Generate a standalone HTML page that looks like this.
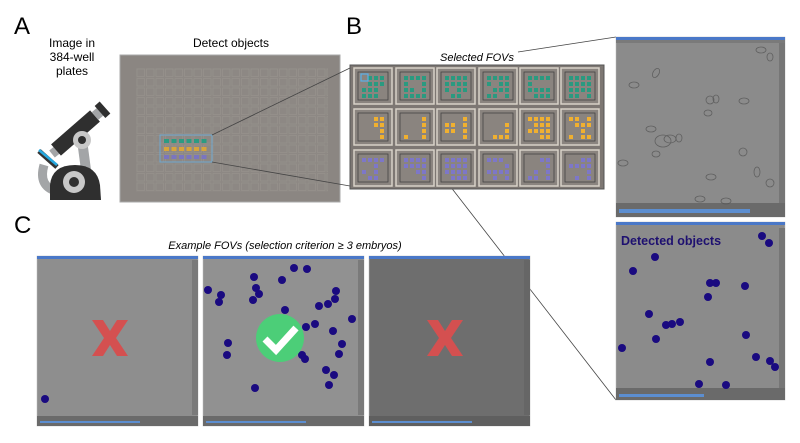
<!DOCTYPE html>
<html><head><meta charset="utf-8"><style>
html,body{margin:0;padding:0;background:#fff;}
svg{display:block;font-family:"Liberation Sans",sans-serif;}
</style></head><body>
<svg width="800" height="443" viewBox="0 0 800 443" xmlns="http://www.w3.org/2000/svg">
<defs>
<pattern id="grid" x="136" y="68" width="9.5" height="9.5" patternUnits="userSpaceOnUse">
<rect width="9.5" height="9.5" fill="#8d8884"/>
<rect x="1" y="1" width="7.5" height="7.5" fill="none" stroke="#98938e" stroke-width="0.6"/>
</pattern>
</defs>
<rect width="800" height="443" fill="#fff"/>
<text x="14" y="34" font-size="24">A</text>
<text x="346" y="34" font-size="24">B</text>
<text x="14" y="233" font-size="24">C</text>
<text x="72" y="47" font-size="12" text-anchor="middle">Image in</text>
<text x="72" y="61" font-size="12" text-anchor="middle">384-well</text>
<text x="72" y="75" font-size="12" text-anchor="middle">plates</text>
<text x="231" y="47" font-size="12" text-anchor="middle">Detect objects</text>

<!-- microscope -->
<g>
<path d="M44 165 Q38 186 56 191" stroke="#a3a5a7" stroke-width="9" fill="none"/>
<path d="M82 140 L86 170" stroke="#a3a5a7" stroke-width="10"/>
<line x1="39" y1="151" x2="57" y2="167" stroke="#333" stroke-width="5"/>
<line x1="39" y1="150" x2="57" y2="165" stroke="#27a9e1" stroke-width="2.5"/>
<path d="M50 200 L50 185 Q52 165 75 165 Q97 165 100 185 L101 200 Z" fill="#2f2f2f"/>
<circle cx="74" cy="182" r="11" fill="#c8c8c8"/>
<circle cx="74" cy="182" r="5" fill="#2f2f2f"/>
<line x1="52" y1="154" x2="57" y2="150" stroke="#a3a5a7" stroke-width="9"/>
<line x1="56" y1="150" x2="95" y2="116" stroke="#2f2f2f" stroke-width="15"/>
<line x1="95" y1="116" x2="101" y2="111" stroke="#a3a5a7" stroke-width="10"/>
<line x1="100" y1="112" x2="105" y2="107.5" stroke="#2f2f2f" stroke-width="16"/>
<circle cx="82" cy="140" r="9" fill="#c8c8c8"/>
<circle cx="82" cy="140" r="4" fill="#2f2f2f"/>
</g>

<!-- plate A -->
<rect x="120" y="55" width="220" height="147" fill="#8b8682" stroke="#aaa" stroke-width="1"/>
<rect x="136" y="68" width="192" height="124" fill="url(#grid)"/>
<rect x="160" y="135" width="52" height="27" fill="none" stroke="#6fa8d0" stroke-width="1"/>
<g stroke-width="4" stroke-dasharray="5 2.5">
<line x1="164" y1="141" x2="208" y2="141" stroke="#2c9b82"/>
<line x1="164" y1="149" x2="208" y2="149" stroke="#d8a53a"/>
<line x1="164" y1="157" x2="208" y2="157" stroke="#7a75c0"/>
</g>

<!-- connectors -->
<g stroke="#444" stroke-width="0.8" fill="none">
<line x1="212" y1="135" x2="350" y2="68"/>
<line x1="212" y1="162" x2="350" y2="186"/>
<line x1="518" y1="52" x2="616" y2="37"/>
<line x1="367" y1="79" x2="616" y2="400"/>
</g>

<!-- plate B -->
<text x="477" y="61" font-size="11" font-style="italic" text-anchor="middle">Selected FOVs</text>
<rect x="350" y="65" width="254" height="124" fill="#7d7773" stroke="#555" stroke-width="1"/>
<g fill="#8a847f" stroke="#d8d2c8" stroke-width="1.5">
<rect x="354" y="68" width="38" height="36"/><rect x="396" y="68" width="38" height="36"/><rect x="437" y="68" width="38" height="36"/><rect x="479" y="68" width="38" height="36"/><rect x="520" y="68" width="38" height="36"/><rect x="561" y="68" width="38" height="36"/>
<rect x="354" y="109" width="38" height="36"/><rect x="396" y="109" width="38" height="36"/><rect x="437" y="109" width="38" height="36"/><rect x="479" y="109" width="38" height="36"/><rect x="520" y="109" width="38" height="36"/><rect x="561" y="109" width="38" height="36"/>
<rect x="354" y="150" width="38" height="36"/><rect x="396" y="150" width="38" height="36"/><rect x="437" y="150" width="38" height="36"/><rect x="479" y="150" width="38" height="36"/><rect x="520" y="150" width="38" height="36"/><rect x="561" y="150" width="38" height="36"/>
</g>
<g fill="none" stroke="#444" stroke-width="0.8">
<rect x="358" y="72" width="30" height="28"/><rect x="400" y="72" width="30" height="28"/><rect x="441" y="72" width="30" height="28"/><rect x="483" y="72" width="30" height="28"/><rect x="524" y="72" width="30" height="28"/><rect x="565" y="72" width="30" height="28"/>
<rect x="358" y="113" width="30" height="28"/><rect x="400" y="113" width="30" height="28"/><rect x="441" y="113" width="30" height="28"/><rect x="483" y="113" width="30" height="28"/><rect x="524" y="113" width="30" height="28"/><rect x="565" y="113" width="30" height="28"/>
<rect x="358" y="154" width="30" height="28"/><rect x="400" y="154" width="30" height="28"/><rect x="441" y="154" width="30" height="28"/><rect x="483" y="154" width="30" height="28"/><rect x="524" y="154" width="30" height="28"/><rect x="565" y="154" width="30" height="28"/>
</g>
<g fill="#2a9a80">
<path d="M368 76h4v4h-4zM374 76h4v4h-4zM380 76h4v4h-4zM368 82h4v4h-4zM374 82h4v4h-4zM380 82h4v4h-4zM362 88h4v4h-4zM368 88h4v4h-4zM374 88h4v4h-4zM362 94h4v4h-4zM368 94h4v4h-4zM374 94h4v4h-4z"/>
<path d="M404 76h4v4h-4zM410 76h4v4h-4zM416 76h4v4h-4zM422 76h4v4h-4zM404 82h4v4h-4zM422 82h4v4h-4zM404 88h4v4h-4zM410 88h4v4h-4zM422 88h4v4h-4zM404 94h4v4h-4zM410 94h4v4h-4zM416 94h4v4h-4zM422 94h4v4h-4z"/>
<path d="M445 76h4v4h-4zM451 76h4v4h-4zM457 76h4v4h-4zM463 76h4v4h-4zM445 82h4v4h-4zM451 82h4v4h-4zM457 82h4v4h-4zM463 82h4v4h-4zM445 88h4v4h-4zM457 88h4v4h-4zM463 88h4v4h-4zM451 94h4v4h-4zM457 94h4v4h-4z"/>
<path d="M487 76h4v4h-4zM493 76h4v4h-4zM499 76h4v4h-4zM505 76h4v4h-4zM487 82h4v4h-4zM499 82h4v4h-4zM505 82h4v4h-4zM493 88h4v4h-4zM499 88h4v4h-4zM505 88h4v4h-4zM487 94h4v4h-4zM493 94h4v4h-4zM505 94h4v4h-4z"/>
<path d="M528 76h4v4h-4zM534 76h4v4h-4zM540 76h4v4h-4zM546 76h4v4h-4zM528 82h4v4h-4zM528 88h4v4h-4zM534 88h4v4h-4zM540 88h4v4h-4zM546 88h4v4h-4zM534 94h4v4h-4zM540 94h4v4h-4zM546 94h4v4h-4z"/>
<path d="M569 76h4v4h-4zM575 76h4v4h-4zM581 76h4v4h-4zM587 76h4v4h-4zM569 82h4v4h-4zM575 82h4v4h-4zM581 82h4v4h-4zM587 82h4v4h-4zM569 88h4v4h-4zM575 88h4v4h-4zM581 88h4v4h-4zM587 88h4v4h-4zM569 94h4v4h-4zM575 94h4v4h-4zM587 94h4v4h-4z"/>
</g>
<rect x="361" y="74" width="7" height="7" fill="none" stroke="#5ab0e8" stroke-width="1.2"/>
<g fill="#f0b030">
<path d="M374 117h4v4h-4zM380 117h4v4h-4zM374 123h4v4h-4zM380 123h4v4h-4zM380 129h4v4h-4zM380 135h4v4h-4z"/>
<path d="M422 117h4v4h-4zM422 123h4v4h-4zM422 129h4v4h-4zM404 135h4v4h-4zM422 135h4v4h-4z"/>
<path d="M463 117h4v4h-4zM445 123h4v4h-4zM451 123h4v4h-4zM463 123h4v4h-4zM445 129h4v4h-4zM451 129h4v4h-4zM463 129h4v4h-4zM463 135h4v4h-4z"/>
<path d="M505 123h4v4h-4zM505 129h4v4h-4zM493 135h4v4h-4zM499 135h4v4h-4zM505 135h4v4h-4z"/>
<path d="M528 117h4v4h-4zM534 117h4v4h-4zM540 117h4v4h-4zM546 117h4v4h-4zM534 123h4v4h-4zM540 123h4v4h-4zM546 123h4v4h-4zM528 129h4v4h-4zM534 129h4v4h-4zM540 129h4v4h-4zM546 129h4v4h-4zM540 135h4v4h-4zM546 135h4v4h-4z"/>
<path d="M569 117h4v4h-4zM575 117h4v4h-4zM587 117h4v4h-4zM575 123h4v4h-4zM581 123h4v4h-4zM587 123h4v4h-4zM581 129h4v4h-4zM569 135h4v4h-4zM581 135h4v4h-4zM587 135h4v4h-4z"/>
</g>
<g fill="#7d77c8">
<path d="M362 158h4v4h-4zM368 158h4v4h-4zM374 158h4v4h-4zM380 158h4v4h-4zM374 164h4v4h-4zM362 170h4v4h-4zM374 170h4v4h-4zM368 176h4v4h-4zM374 176h4v4h-4z"/>
<path d="M404 158h4v4h-4zM410 158h4v4h-4zM416 158h4v4h-4zM422 158h4v4h-4zM404 164h4v4h-4zM410 164h4v4h-4zM416 164h4v4h-4zM422 164h4v4h-4zM416 170h4v4h-4zM422 170h4v4h-4zM422 176h4v4h-4z"/>
<path d="M445 158h4v4h-4zM451 158h4v4h-4zM457 158h4v4h-4zM463 158h4v4h-4zM445 164h4v4h-4zM451 164h4v4h-4zM457 164h4v4h-4zM463 164h4v4h-4zM445 170h4v4h-4zM451 170h4v4h-4zM457 170h4v4h-4zM463 170h4v4h-4zM451 176h4v4h-4zM457 176h4v4h-4zM463 176h4v4h-4z"/>
<path d="M487 158h4v4h-4zM493 158h4v4h-4zM499 158h4v4h-4zM505 164h4v4h-4zM487 170h4v4h-4zM493 170h4v4h-4zM499 170h4v4h-4zM505 170h4v4h-4zM493 176h4v4h-4zM505 176h4v4h-4z"/>
<path d="M540 158h4v4h-4zM546 158h4v4h-4zM546 164h4v4h-4zM534 170h4v4h-4zM546 170h4v4h-4zM528 176h4v4h-4zM534 176h4v4h-4zM546 176h4v4h-4z"/>
<path d="M581 158h4v4h-4zM587 158h4v4h-4zM569 164h4v4h-4zM575 164h4v4h-4zM581 164h4v4h-4zM587 164h4v4h-4zM587 170h4v4h-4zM575 176h4v4h-4zM587 176h4v4h-4z"/>
</g>

<!-- right windows -->
<g>
<rect x="616" y="37" width="169" height="180" fill="#8b8b8b" stroke="#bbb" stroke-width="0.5"/>
<rect x="616" y="37" width="169" height="3" fill="#4a78c8"/>
<rect x="616" y="40" width="169" height="3" fill="#7a7a7a"/>
<rect x="779" y="43" width="6" height="160" fill="#767676"/>
<rect x="616" y="203" width="169" height="14" fill="#6a6a6a"/>
<rect x="619" y="209" width="131" height="4" fill="#5c8ed0"/>
<g fill="none" stroke="#555" stroke-width="0.8" opacity="0.8">
<ellipse cx="656" cy="73" rx="3" ry="5" transform="rotate(30 656 73)"/>
<ellipse cx="634" cy="85" rx="5" ry="3"/>
<ellipse cx="651" cy="129" rx="5" ry="3"/>
<ellipse cx="663" cy="141" rx="8" ry="6"/><ellipse cx="670" cy="139" rx="6" ry="4"/>
<ellipse cx="679" cy="138" rx="3" ry="4"/>
<ellipse cx="656" cy="154" rx="4" ry="3"/>
<ellipse cx="623" cy="163" rx="5" ry="3"/>
<ellipse cx="710" cy="100" rx="4" ry="4"/><ellipse cx="716" cy="99" rx="3" ry="4"/>
<ellipse cx="708" cy="113" rx="4" ry="3"/>
<ellipse cx="744" cy="101" rx="5" ry="3"/>
<ellipse cx="743" cy="152" rx="4" ry="4"/>
<ellipse cx="711" cy="177" rx="5" ry="3"/>
<ellipse cx="757" cy="172" rx="3" ry="5"/><ellipse cx="770" cy="183" rx="4" ry="4"/>
<ellipse cx="761" cy="50" rx="5" ry="3"/><ellipse cx="770" cy="57" rx="3" ry="4"/>
<ellipse cx="700" cy="199" rx="5" ry="3"/><ellipse cx="726" cy="201" rx="5" ry="3"/>
</g>
</g>
<g>
<rect x="616" y="222" width="169" height="178" fill="#8b8b8b" stroke="#bbb" stroke-width="0.5"/>
<rect x="616" y="222" width="169" height="3" fill="#4a78c8"/>
<rect x="779" y="228" width="6" height="160" fill="#767676"/>
<rect x="616" y="388" width="169" height="12" fill="#6a6a6a"/>
<rect x="619" y="394" width="85" height="3" fill="#5c8ed0"/>
<text x="621" y="245" font-size="12.5" font-weight="bold" fill="#1e1070">Detected objects</text>
<g fill="#1a0a80">
<circle cx="762" cy="236" r="4"/><circle cx="769" cy="243" r="4"/><circle cx="655" cy="257" r="4"/><circle cx="633" cy="271" r="4"/><circle cx="710" cy="283" r="4"/><circle cx="716" cy="283" r="4"/><circle cx="745" cy="286" r="4"/><circle cx="708" cy="297" r="4"/><circle cx="649" cy="314" r="4"/><circle cx="666" cy="325" r="4"/><circle cx="672" cy="324" r="4"/><circle cx="680" cy="322" r="4"/><circle cx="746" cy="335" r="4"/><circle cx="656" cy="339" r="4"/><circle cx="622" cy="348" r="4"/><circle cx="756" cy="357" r="4"/><circle cx="770" cy="361" r="4"/><circle cx="775" cy="367" r="4"/><circle cx="710" cy="362" r="4"/><circle cx="699" cy="384" r="4"/><circle cx="726" cy="385" r="4"/>
</g>
</g>

<!-- C -->
<text x="285" y="249" font-size="11" font-style="italic" text-anchor="middle">Example FOVs (selection criterion ≥ 3 embryos)</text>
<g>
<rect x="37" y="256" width="161" height="170" fill="#8e8e8e" stroke="#bbb" stroke-width="0.5"/>
<rect x="37" y="256" width="161" height="3" fill="#4a78c8"/>
<rect x="192" y="260" width="6" height="155" fill="#7a7a7a"/>
<rect x="37" y="416" width="161" height="10" fill="#6a6a6a"/>
<rect x="40" y="421" width="100" height="2" fill="#5c8ed0"/>
<circle cx="45" cy="399" r="4" fill="#1a0a80"/>
<path d="M92 320 L103 320 L110 331 L117 320 L128 320 L116 338 L128 356 L117 356 L110 345 L103 356 L92 356 L104 338 Z" fill="#d45050"/>
</g>
<g>
<rect x="203" y="256" width="161" height="170" fill="#919191" stroke="#bbb" stroke-width="0.5"/>
<rect x="203" y="256" width="161" height="3" fill="#4a78c8"/>
<rect x="358" y="260" width="6" height="155" fill="#7a7a7a"/>
<rect x="203" y="416" width="161" height="10" fill="#6a6a6a"/>
<rect x="206" y="421" width="100" height="2" fill="#5c8ed0"/>
<g fill="#1a0a80">
<circle cx="208" cy="290" r="4"/><circle cx="221" cy="295" r="4"/><circle cx="219" cy="302" r="4"/><circle cx="254" cy="277" r="4"/><circle cx="256" cy="288" r="4"/><circle cx="259" cy="294" r="4"/><circle cx="253" cy="300" r="4"/><circle cx="294" cy="268" r="4"/><circle cx="307" cy="269" r="4"/><circle cx="282" cy="280" r="4"/><circle cx="285" cy="310" r="4"/><circle cx="336" cy="291" r="4"/><circle cx="335" cy="299" r="4"/><circle cx="328" cy="304" r="4"/><circle cx="319" cy="306" r="4"/><circle cx="352" cy="319" r="4"/><circle cx="315" cy="324" r="4"/><circle cx="306" cy="327" r="4"/><circle cx="333" cy="331" r="4"/><circle cx="342" cy="344" r="4"/><circle cx="339" cy="354" r="4"/><circle cx="228" cy="343" r="4"/><circle cx="227" cy="355" r="4"/><circle cx="302" cy="355" r="4"/><circle cx="305" cy="359" r="4"/><circle cx="326" cy="370" r="4"/><circle cx="334" cy="375" r="4"/><circle cx="329" cy="385" r="4"/><circle cx="255" cy="388" r="4"/>
</g>
<circle cx="280" cy="338" r="24" fill="#4cce78"/>
<path d="M265 339 L276 350 L296 328" stroke="#fff" stroke-width="7" fill="none"/>
</g>
<g>
<rect x="369" y="256" width="161" height="170" fill="#6e6e6e" stroke="#bbb" stroke-width="0.5"/>
<rect x="369" y="256" width="161" height="3" fill="#4a78c8"/>
<rect x="524" y="260" width="6" height="155" fill="#666"/>
<rect x="369" y="416" width="161" height="10" fill="#5f5f5f"/>
<rect x="372" y="421" width="100" height="2" fill="#5c8ed0"/>
<path d="M427 320 L438 320 L445 331 L452 320 L463 320 L451 338 L463 356 L452 356 L445 345 L438 356 L427 356 L439 338 Z" fill="#d45050"/>
</g>
</svg>
</body></html>
